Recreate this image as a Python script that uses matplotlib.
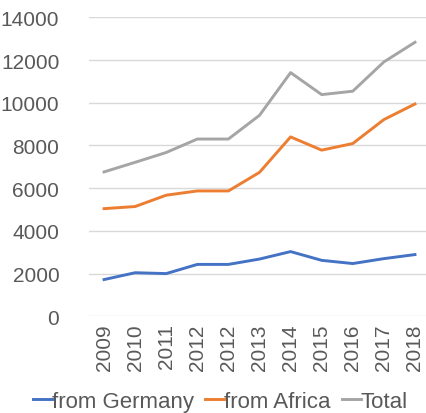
import matplotlib
matplotlib.use("Agg")
import matplotlib.pyplot as plt

years = ["2009", "2010", "2011", "2012", "2012", "2013", "2014", "2015", "2016", "2017", "2018"]
from_germany = [1720, 2040, 2000, 2430, 2430, 2680, 3030, 2620, 2470, 2700, 2890]
from_africa = [5040, 5140, 5670, 5870, 5870, 6740, 8400, 7780, 8090, 9210, 9940]
total = [6760, 7210, 7670, 8300, 8300, 9410, 11410, 10380, 10540, 11910, 12830]

plt.rcParams['font.family'] = ['Liberation Sans', 'DejaVu Sans']
text_color = '#595959'

fig = plt.figure(figsize=(4.26, 4.14), dpi=100)
W, H = 426, 414
# plot area in pixels (x0, y_bottom, width, height)
ax = fig.add_axes([88.5 / W, 1 - 317.3 / H, 342 / W, 299 / H])

x = list(range(len(years)))
ax.plot(x, from_germany, color='#4472C4', lw=2.1, label='from Germany', solid_joinstyle='round')
ax.plot(x, from_africa, color='#ED7D31', lw=2.1, label='from Africa', solid_joinstyle='round')
ax.plot(x, total, color='#A5A5A5', lw=2.1, label='Total', solid_joinstyle='round')

ax.set_xlim(-0.5, len(years) - 0.5)
ax.set_ylim(0, 14000)
ax.set_yticks(range(0, 14001, 2000))
ax.set_xticks(x)
ax.set_xticklabels(years, rotation=90)
ax.tick_params(axis='both', length=0, labelsize=15, colors=text_color)
ax.tick_params(axis='y', pad=21)
ax.tick_params(axis='x', pad=5)
ax.grid(axis='y', color='#D9D9D9', lw=1)
ax.set_axisbelow(True)
for s in ax.spines.values():
    s.set_visible(False)

leg = fig.legend(loc='lower center', bbox_to_anchor=(0.518, -0.018), ncol=3, frameon=False,
                 fontsize=16, handlelength=0.85, handletextpad=0.0, columnspacing=0.5,
                 borderaxespad=0)
for t in leg.get_texts():
    t.set_color(text_color)

fig.savefig('out.png', dpi=100)
